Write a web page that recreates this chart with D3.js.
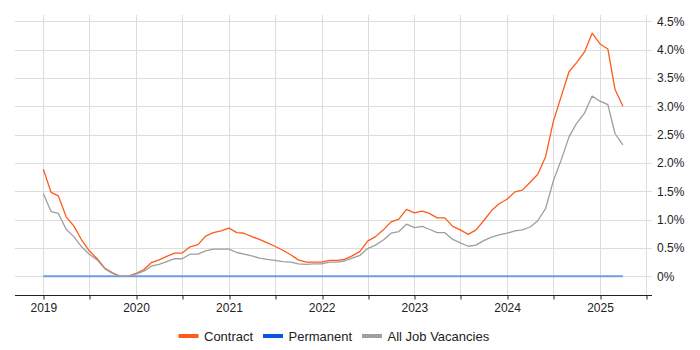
<!DOCTYPE html>
<html>
<head>
<meta charset="utf-8">
<script src="https://cdn.jsdelivr.net/npm/d3@7"></script>
<style>
  html, body { margin: 0; padding: 0; background: #fff; }
  svg { display: block; font-family: "Liberation Sans", Arial, sans-serif; }
</style>
</head>
<body>
<svg id="chart" width="700" height="350"></svg>
<script>
// ---- data (monthly, Jan 2019 – Apr 2025) ----
const startMonth = [2019, 0];
const contract = [
  1.89, 1.48, 1.42, 1.05, 0.89, 0.64, 0.45, 0.31, 0.14, 0.06, 0.00, 0.00,
  0.05, 0.12, 0.24, 0.29, 0.35, 0.41, 0.41, 0.52, 0.56, 0.71, 0.77, 0.80,
  0.85, 0.77, 0.76, 0.70, 0.65, 0.59, 0.53, 0.46, 0.38, 0.29, 0.25, 0.25,
  0.25, 0.28, 0.28, 0.30, 0.36, 0.44, 0.62, 0.70, 0.82, 0.96, 1.01, 1.18,
  1.12, 1.15, 1.11, 1.03, 1.03, 0.88, 0.82, 0.74, 0.82, 0.98, 1.16, 1.28,
  1.36, 1.49, 1.52, 1.66, 1.80, 2.11, 2.73, 3.17, 3.61, 3.77, 3.96, 4.29,
  4.10, 4.01, 3.30, 3.00
];
const permanent = new Array(contract.length).fill(0);
const allJobs = [
  1.46, 1.14, 1.11, 0.83, 0.70, 0.52, 0.39, 0.29, 0.13, 0.05, 0.00, 0.00,
  0.04, 0.09, 0.18, 0.21, 0.26, 0.31, 0.31, 0.39, 0.39, 0.45, 0.48, 0.48,
  0.48, 0.42, 0.39, 0.36, 0.32, 0.30, 0.28, 0.26, 0.25, 0.22, 0.21, 0.22,
  0.22, 0.25, 0.25, 0.27, 0.32, 0.37, 0.49, 0.55, 0.64, 0.76, 0.79, 0.92,
  0.86, 0.88, 0.83, 0.77, 0.77, 0.65, 0.59, 0.53, 0.55, 0.63, 0.69, 0.73,
  0.76, 0.80, 0.82, 0.87, 0.98, 1.20, 1.68, 2.05, 2.46, 2.70, 2.88, 3.18,
  3.09, 3.03, 2.52, 2.32
];
const yTicks = [0, 0.5, 1.0, 1.5, 2.0, 2.5, 3.0, 3.5, 4.0, 4.5];
const yearLabels = [2019, 2020, 2021, 2022, 2023, 2024, 2025];
const seriesNames = ["Contract", "Permanent", "All Job Vacancies"];
const lineColors = ["#ff5a1a", "#6f9be6", "#9e9e9e"];
const legendColors = ["#ff5a1a", "#0a57dd", "#a0a0a0"];

// ---- layout ----
const plot = { left: 15, right: 652, top: 15, bottom: 295 };
const dates = contract.map((_, i) => new Date(startMonth[0], startMonth[1] + i, 1));

const x = d3.scaleTime()
  .domain([new Date(2019, 0, 1), new Date(2025, 0, 1)])
  .range([43.3, 600]);
const y = d3.scaleLinear().domain([0, 4.5]).range([276.3, 21.3]);

const svg = d3.select("#chart");

// half-year ticks
const halfYears = [];
for (let yr = 2019; yr <= 2025; yr++) {
  halfYears.push(new Date(yr, 0, 1));
  halfYears.push(new Date(yr, 6, 1));
}

// grid
const grid = svg.append("g");
grid.selectAll("line.h").data(yTicks).enter().append("line")
  .attr("x1", plot.left).attr("x2", plot.right)
  .attr("y1", d => Math.round(y(d)) + 0.5).attr("y2", d => Math.round(y(d)) + 0.5)
  .attr("stroke", "#dddddd").attr("stroke-width", 1);
grid.selectAll("line.v").data(halfYears).enter().append("line")
  .attr("x1", d => Math.round(x(d)) + 0.5).attr("x2", d => Math.round(x(d)) + 0.5)
  .attr("y1", plot.top).attr("y2", plot.bottom)
  .attr("stroke", "#dddddd").attr("stroke-width", 1);

// x axis
const xAxis = d3.axisBottom(x)
  .tickValues(halfYears)
  .tickSize(4)
  .tickFormat(d => d.getMonth() === 0 ? d3.timeFormat("%Y")(d) : "");
const gx = svg.append("g")
  .attr("transform", `translate(0,${plot.bottom + 0.5})`)
  .call(xAxis);
gx.select(".domain").attr("d", `M${plot.left},0H${plot.right}`).attr("stroke", "#222");
gx.selectAll(".tick line").attr("stroke", "#222")
  .attr("transform", d => `translate(${Math.round(x(d)) + 0.5 - x(d)},0)`);
gx.selectAll(".tick text")
  .attr("y", 8).attr("dy", "0.71em")
  .attr("font-size", 12).attr("fill", "#222")
  .attr("font-family", "'Liberation Sans', Arial, sans-serif");

// y axis (right labels)
const yAxis = d3.axisRight(y)
  .tickValues(yTicks)
  .tickSize(0)
  .tickFormat(d => d === 0 ? "0%" : d3.format(".1f")(d) + "%");
const gy = svg.append("g")
  .attr("transform", `translate(${plot.right + 5},0)`)
  .call(yAxis);
gy.select(".domain").remove();
gy.selectAll(".tick text")
  .attr("x", 0)
  .attr("font-size", 12).attr("fill", "#222")
  .attr("font-family", "'Liberation Sans', Arial, sans-serif");

// lines
const line = d3.line().x((d, i) => x(dates[i])).y(d => y(d));
const allSeries = [contract, permanent, allJobs];
const drawOrder = [0, 1, 2];
const widths = [1.3, 2, 1.3];
drawOrder.forEach(k => {
  svg.append("path")
    .datum(allSeries[k])
    .attr("d", line)
    .attr("fill", "none")
    .attr("stroke", lineColors[k])
    .attr("stroke-width", widths[k])
    .attr("stroke-linejoin", "round");
});

// legend
const legendItems = [
  { name: seriesNames[0], color: legendColors[0], x: 178.5 },
  { name: seriesNames[1], color: legendColors[1], x: 263 },
  { name: seriesNames[2], color: legendColors[2], x: 362 }
];
const lg = svg.append("g");
legendItems.forEach(it => {
  lg.append("rect")
    .attr("x", it.x).attr("y", 334).attr("width", 20).attr("height", 4)
    .attr("fill", it.color);
  lg.append("text")
    .attr("x", it.x + 25.5).attr("y", 336).attr("dy", "0.35em")
    .attr("font-size", 13).attr("fill", "#222")
    .attr("font-family", "'Liberation Sans', Arial, sans-serif")
    .text(it.name);
});
</script>
</body>
</html>
